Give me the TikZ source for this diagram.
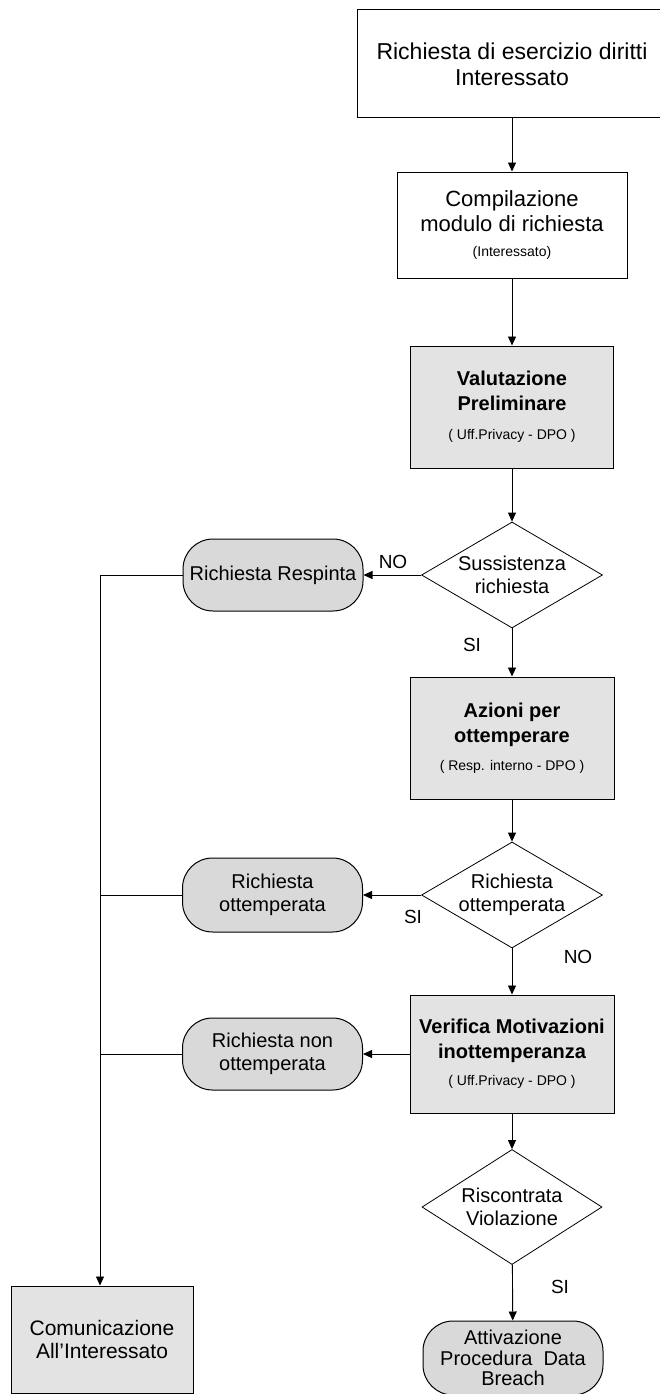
\documentclass[tikz,border=0pt]{standalone}
\usepackage{fontspec}
\setmainfont{Liberation Sans}
\usetikzlibrary{shapes.geometric,arrows.meta}
\begin{document}
\begin{tikzpicture}[x=1pt,y=-1pt,
  base/.style={draw,line width=1pt,align=center,inner sep=0pt},
  plainbox/.style={base,fill=white,font=\fontsize{22}{25}\selectfont},
  greybox/.style={base,fill=gray!22,font=\bfseries\fontsize{20}{25}\selectfont},
  termbox/.style={base,fill=gray!30,rounded corners=30pt,font=\fontsize{20}{23.5}\selectfont,minimum width=180pt},
  decision/.style={diamond,draw,line width=0.8pt,fill=white,inner sep=0pt,minimum width=181pt,minimum height=106pt},
  dtext/.style={align=center,font=\fontsize{20}{23}\selectfont},
  lbl/.style={font=\fontsize{19}{22}\selectfont},
  conn/.style={line width=0.9pt},
  arr/.style={conn,-{Triangle[length=9pt,width=8pt]}}
]
\useasboundingbox (0,0) rectangle (660,1394);

% main column
\node[plainbox,minimum width=310pt,minimum height=108pt,font=\fontsize{23}{26}\selectfont] (b1) at (512,64) {Richiesta di esercizio diritti\\Interessato};
\node[plainbox,minimum width=230pt,minimum height=106pt] (b2) at (512,225) {Compilazione\\modulo di richiesta\\{\fontsize{14}{16}\selectfont(Interessato)}};
\node[greybox,minimum width=203pt,minimum height=122pt] (b3) at (512,407) {Valutazione\\Preliminare\\[4pt]{\mdseries\fontsize{14}{16}\selectfont( Uff.Privacy - DPO )}};
\node[decision] (d1) at (512,575) {};
\node[dtext] at (d1) {Sussistenza\\richiesta};
\node[greybox,minimum width=204pt,minimum height=122pt] (b4) at (512,738) {Azioni per\\ottemperare\\[3pt]{\mdseries\fontsize{14}{16}\selectfont( Resp. interno - DPO )}};
\node[decision] (d2) at (512,895) {};
\node[dtext] at (d2) {Richiesta\\ottemperata};
\node[greybox,minimum width=204pt,minimum height=118pt] (b5) at (512,1054) {Verifica Motivazioni\\inottemperanza\\[2pt]{\mdseries\fontsize{14}{16}\selectfont( Uff.Privacy - DPO )}};
\node[decision,minimum width=180pt,minimum height=115pt] (d3) at (512,1207) {};
\node[dtext] at (d3) {Riscontrata\\Violazione};
\node[termbox,minimum height=74pt,font=\fontsize{20}{20.5}\selectfont] (att) at (513,1358) {Attivazione\\Procedura\ \ Data\\Breach};

% left column
\node[termbox,minimum height=72pt] (rr) at (273,575) {Richiesta Respinta};
\node[termbox,minimum height=74pt] (ro) at (272.5,895) {Richiesta\\ottemperata};
\node[termbox,minimum height=72pt] (rn) at (272.5,1054) {Richiesta non\\ottemperata};
\node[base,fill=gray!22,minimum width=182pt,minimum height=107pt,font=\fontsize{21}{23}\selectfont] (com) at (102,1339.5) {Comunicazione\\All'Interessato};

\coordinate (L) at (100,575);

% connectors
\draw[arr] (b1) -- (b2);
\draw[arr] (b2) -- (b3);
\draw[arr] (b3) -- (d1);
\draw[arr] (d1) -- (b4);
\draw[arr] (b4) -- (d2);
\draw[arr] (d2) -- (b5);
\draw[arr] (b5) -- (d3);
\draw[arr] (d3) -- (att);
\draw[arr] (d1.west) -- (rr.east);
\draw[arr] (d2.west) -- (ro.east);
\draw[arr] (b5.west) -- (rn.east);
\draw[conn] (rr.west) -- (L);
\draw[conn] (ro.west) -- (L |- ro.west);
\draw[conn] (rn.west) -- (L |- rn.west);
\draw[arr] (L) -- (L |- com.north);

% labels
\node[lbl] at (393,562) {NO};
\node[lbl] at (472,645) {SI};
\node[lbl] at (413,917) {SI};
\node[lbl] at (578,957) {NO};
\node[lbl] at (560,1287) {SI};
\end{tikzpicture}
\end{document}
